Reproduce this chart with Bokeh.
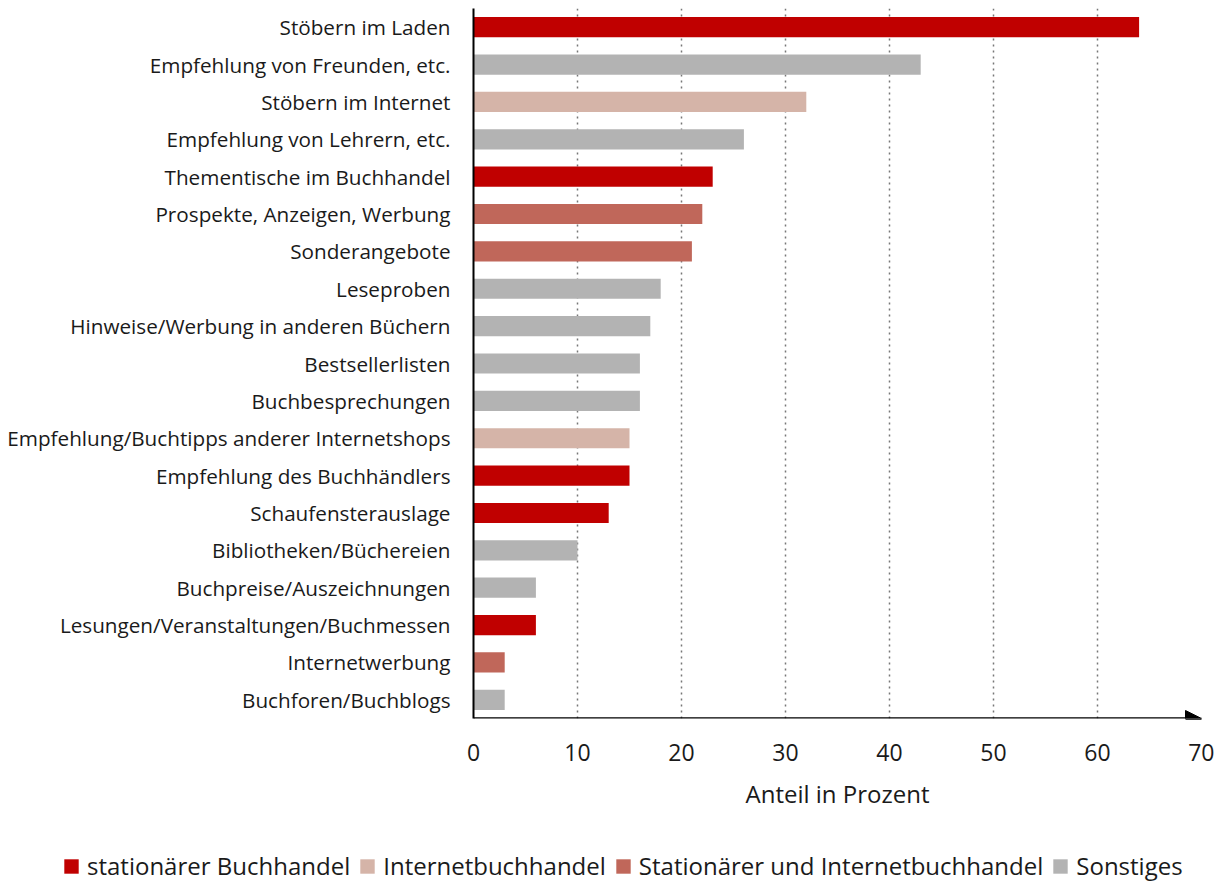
from bokeh.plotting import figure
from bokeh.layouts import column
from bokeh.models import (ColumnDataSource, FactorRange, Range1d, Arrow, NormalHead,
                          Legend, LegendItem, FixedTicker)
from bokeh.embed import file_html
from bokeh.resources import INLINE

categories = [
    "Stöbern im Laden", "Empfehlung von Freunden, etc.", "Stöbern im Internet",
    "Empfehlung von Lehrern, etc.", "Thementische im Buchhandel",
    "Prospekte, Anzeigen, Werbung", "Sonderangebote", "Leseproben",
    "Hinweise/Werbung in anderen Büchern", "Bestsellerlisten", "Buchbesprechungen",
    "Empfehlung/Buchtipps anderer Internetshops", "Empfehlung des Buchhändlers",
    "Schaufensterauslage", "Bibliotheken/Büchereien", "Buchpreise/Auszeichnungen",
    "Lesungen/Veranstaltungen/Buchmessen", "Internetwerbung", "Buchforen/Buchblogs",
]
values = [64, 43, 32, 26, 23, 22, 21, 18, 17, 16, 16, 15, 15, 13, 10, 6, 6, 3, 3]
groups = ["stat", "sonst", "inet", "sonst", "stat", "both", "both", "sonst", "sonst",
          "sonst", "sonst", "inet", "stat", "stat", "sonst", "sonst", "stat", "both", "sonst"]
group_labels = {"stat": "stationärer Buchhandel", "inet": "Internetbuchhandel",
                "both": "Stationärer und Internetbuchhandel", "sonst": "Sonstiges"}
group_order = ["stat", "inet", "both", "sonst"]
group_colors = {"stat": "#C00000", "inet": "#D5B4A8", "both": "#C0675A", "sonst": "#B3B3B3"}
x_ticks = [0, 10, 20, 30, 40, 50, 60, 70]

FONT = "Open Sans"
TXT = "#1a1a1a"

p = figure(width=1214, height=822, output_backend="svg", toolbar_location=None,
           y_range=FactorRange(factors=list(reversed(categories)), range_padding=0),
           x_range=Range1d(0, 70),
           min_border_left=473, min_border_right=13, min_border_top=8, min_border_bottom=104)
p.outline_line_color = None
p.frame_align = False

for g in group_order:
    idx = [i for i, gg in enumerate(groups) if gg == g]
    src = ColumnDataSource(dict(cat=[categories[i] for i in idx], val=[values[i] for i in idx]))
    p.hbar(y="cat", right="val", left=0, height=0.54, source=src,
           fill_color=group_colors[g], line_color=None)

# axes
p.xaxis.ticker = FixedTicker(ticks=x_ticks)
p.xaxis.axis_line_color = None
p.xaxis.major_tick_line_color = None
p.xaxis.minor_tick_line_color = None
p.xaxis.major_label_standoff = 19
p.xaxis.major_label_text_font = FONT
p.xaxis.major_label_text_font_size = "23px"
p.xaxis.major_label_text_color = TXT
p.xaxis.axis_label = "Anteil in Prozent"
p.xaxis.axis_label_text_font = FONT
p.xaxis.axis_label_text_font_size = "24px"
p.xaxis.axis_label_text_font_style = "normal"
p.xaxis.axis_label_text_color = TXT
p.xaxis.axis_label_standoff = 13

p.yaxis.axis_line_color = "black"
p.yaxis.axis_line_width = 2
p.yaxis.major_tick_line_color = None
p.yaxis.minor_tick_line_color = None
p.yaxis.major_label_standoff = 17
p.yaxis.major_label_text_font = FONT
p.yaxis.major_label_text_font_size = "20.7px"
p.yaxis.major_label_text_color = TXT

p.xgrid.grid_line_color = "#777777"
p.xgrid.grid_line_dash = "dotted"
p.xgrid.grid_line_width = 1.5
p.ygrid.grid_line_color = None

p.add_layout(Arrow(x_start=0, x_end=70, y_start=0, y_end=0, line_color="black", line_width=2.5,
                   end=NormalHead(size=16, fill_color="black", line_color="black")))

# legend figure
lf = figure(width=1214, height=60, output_backend="svg", toolbar_location=None,
            x_range=Range1d(0, 1), y_range=Range1d(0, 1),
            min_border_left=0, min_border_right=0, min_border_top=0, min_border_bottom=0)
lf.frame_align = False
lf.axis.visible = False
lf.grid.grid_line_color = None
lf.outline_line_color = None
items = []
for g in group_order:
    # off-screen swatch renderer so the legend can draw its square
    r = lf.rect(x=[-10], y=[-10], width=1, height=1, fill_color=group_colors[g], line_color=None)
    items.append(LegendItem(label=group_labels[g], renderers=[r]))

legend = Legend(items=items, orientation="horizontal", label_text_font=FONT,
                label_text_font_size="24px", label_text_color=TXT, glyph_width=18,
                glyph_height=18, spacing=8, label_standoff=7, label_height=26,
                border_line_color=None, background_fill_alpha=0, margin=0, padding=0,
                location=(62, 0))
lf.add_layout(legend)

open("out.html", "w").write(file_html(column(p, lf), INLINE))
